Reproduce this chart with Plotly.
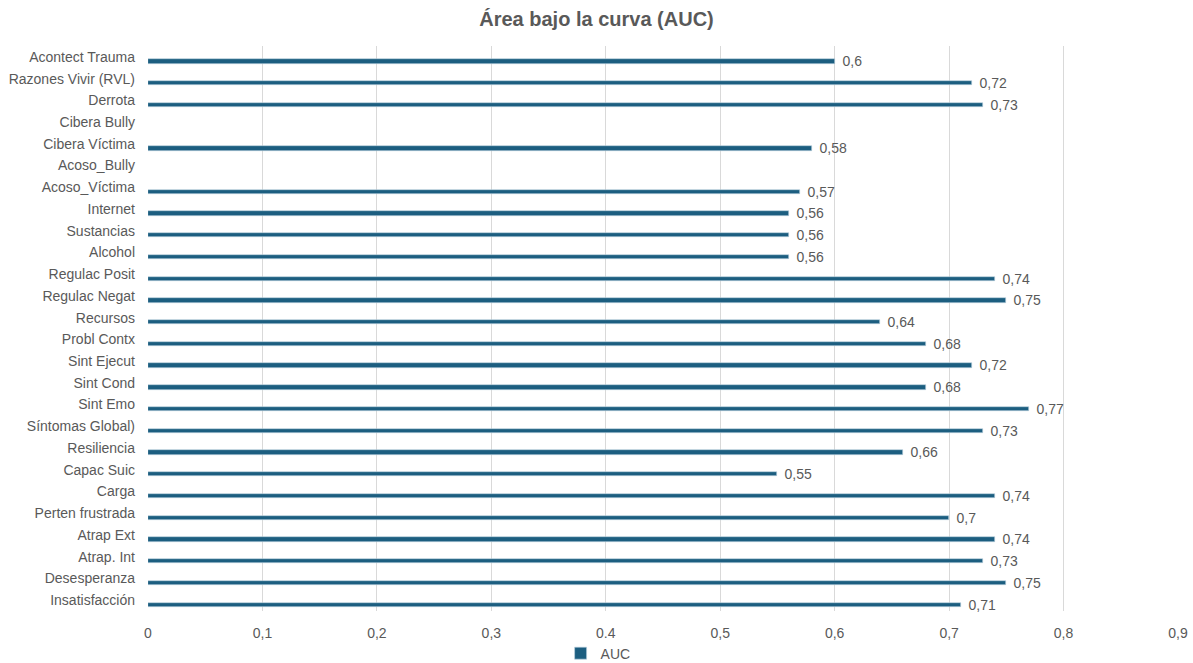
import plotly.graph_objects as go

categories = [
    "Insatisfacción", "Desesperanza", "Atrap. Int", "Atrap Ext", "Perten frustrada",
    "Carga", "Capac Suic", "Resiliencia", "Síntomas Global)", "Sint Emo",
    "Sint Cond", "Sint Ejecut", "Probl Contx", "Recursos", "Regulac Negat",
    "Regulac Posit", "Alcohol", "Sustancias", "Internet", "Acoso_Víctima",
    "Acoso_Bully", "Cibera Víctima", "Cibera Bully", "Derrota",
    "Razones Vivir (RVL)", "Acontect Trauma",
]
auc = [
    0.71, 0.75, 0.73, 0.74, 0.70,
    0.74, 0.55, 0.66, 0.73, 0.77,
    0.68, 0.72, 0.68, 0.64, 0.75,
    0.74, 0.56, 0.56, 0.56, 0.57,
    None, 0.58, None, 0.73,
    0.72, 0.60,
]
x_ticks = [0, 0.1, 0.2, 0.3, 0.4, 0.5, 0.6, 0.7, 0.8, 0.9]

FONT = "Liberation Sans, Arial, sans-serif"
GREY = "#595959"

labels = ["" if v is None else "  " + ("%g" % v).replace(".", ",") for v in auc]

fig = go.Figure()
fig.add_trace(go.Bar(
    y=categories, x=auc, orientation="h", name="AUC",
    marker=dict(color="#1C5E80", line=dict(color="#BFD3E0", width=0.6)),
    width=0.2, offset=-0.31,
    text=labels, textposition="outside", constraintext="none", cliponaxis=False,
    textfont=dict(family=FONT, size=14, color=GREY),
))

fig.update_layout(
    width=1193, height=663,
    paper_bgcolor="white", plot_bgcolor="white",
    separators=", ",
    margin=dict(l=148, r=15, t=46, b=52, autoexpand=False),
    title=dict(text="<b>Área bajo la curva (AUC)</b>", x=0.5, xanchor="center", y=0.972, yanchor="middle",
               font=dict(family=FONT, size=20, color=GREY)),
    showlegend=True,
    legend=dict(orientation="h", x=0.437, xanchor="center", y=-0.047, yanchor="top",
                font=dict(family=FONT, size=14, color=GREY),
                itemwidth=30),
    bargap=0,
)
fig.update_xaxes(
    range=[0, 0.9], tickvals=x_ticks, showgrid=True, gridcolor="#D9D9D9", gridwidth=1,
    zeroline=False, showline=False, ticks="", ticklabelstandoff=12, automargin=False,
    tickfont=dict(family=FONT, size=14, color=GREY),
)
fig.update_yaxes(
    type="category", categoryorder="array", categoryarray=categories,
    range=[-0.5, len(categories) - 0.5],
    showgrid=False, showline=False, ticks="", ticklabelstandoff=12, automargin=False,
    tickfont=dict(family=FONT, size=14, color=GREY),
)

fig.write_html("out.html", config={"displayModeBar": False},
               post_script="document.body.style.margin='0';document.body.style.overflow='hidden';")
